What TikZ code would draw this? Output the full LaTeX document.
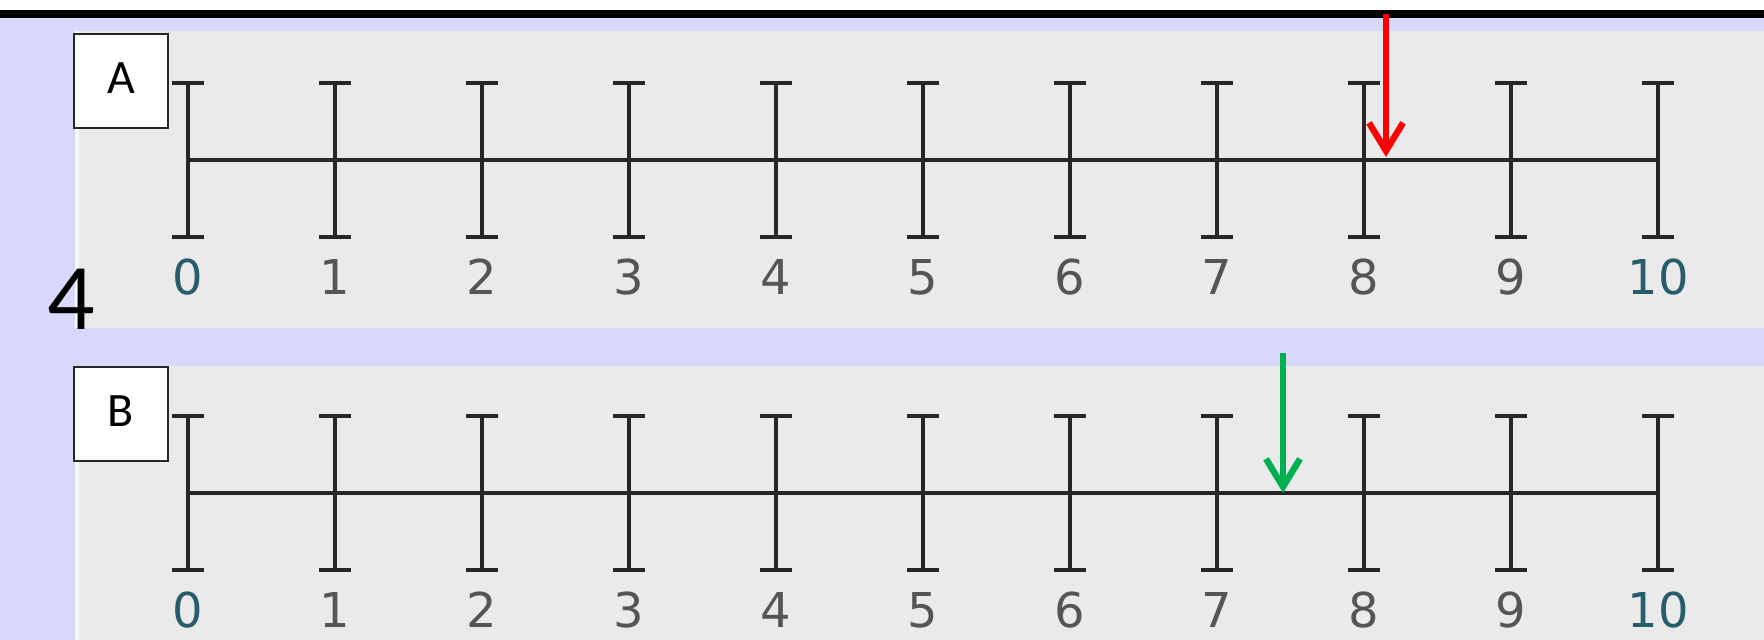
\documentclass[tikz,border=0pt]{standalone}
\usepackage{fontspec}
\setmainfont{DejaVu Sans}
\newfontfamily\slidefont{Carlito}
\usetikzlibrary{arrows.meta}
\definecolor{lavender}{RGB}{216,216,250}
\definecolor{panelgray}{RGB}{234,234,234}
\definecolor{tickgray}{RGB}{38,38,38}
\definecolor{numgray}{RGB}{85,85,85}
\definecolor{numteal}{RGB}{38,92,108}
\definecolor{markred}{RGB}{255,0,0}
\definecolor{markgreen}{RGB}{0,176,80}

\begin{document}
\begin{tikzpicture}[x=0.5pt,y=-0.5pt,
  letterbox/.style={draw=black!85,line width=1pt,fill=white,minimum width=47pt,minimum height=47pt,
    inner sep=0pt,text depth=3pt,font=\slidefont\fontsize{24}{28}\selectfont},
  tickbar/.style={draw=tickgray,line width=2.2pt},
  axis/.style={draw=tickgray,line width=1.8pt},
  num/.style={inner sep=0pt,font=\fontsize{24}{28}\selectfont},
  pointer/.style={line width=3.2pt,-{Straight Barb[length=14pt,width=17pt]}}
]
  \useasboundingbox (0,0) rectangle (1764,640);
  \fill[white] (0,0) rectangle (1764,640);
  \fill[lavender] (0,18) rectangle (1764,640);
  \fill[black] (0,10) rectangle (1764,18);
  \fill[panelgray] (75,31) rectangle (1764,328);
  \fill[panelgray] (75,366) rectangle (1764,640);
  \fill[white!60!panelgray] (75,31) rectangle (79,328) (75,366) rectangle (79,640);

  \foreach \r/\y in {a/160,b/493} {
    \foreach \k in {0,...,10} {
      \coordinate (\r\k) at (188+147*\k,\y);
      \draw[tickbar] (172+147*\k,\y-77) -- ++(32,0) (188+147*\k,\y-77) -- ++(0,154)
        (172+147*\k,\y+77) -- ++(32,0);
    }
    \draw[axis] (\r0) -- (\r10);
  }
  \foreach \r/\y in {a/277,b/610} {
    \foreach \k in {1,...,9}
      \node[num,text=numgray] (lab\r\k) at (188+147*\k,\y) {\k};
    \node[num,text=numteal] (lab\r0) at (188,\y) {0};
    \node[num,text=numteal] (lab\r10) at (1658,\y) {10};
  }

  \node[letterbox] (boxA) at (121,81) {A};
  \node[letterbox] (boxB) at (121,414) {B};
  \node[inner sep=0pt,font=\slidefont\fontsize{47}{52}\selectfont] (qnum) at (71,299) {4};

  \coordinate (redtail) at (1386,14);
  \coordinate (redhead) at (1386,157);
  \coordinate (greentail) at (1283,353);
  \coordinate (greenhead) at (1283,493);
  \draw[pointer,markred] (redtail) -- (redhead);
  \draw[pointer,markgreen] (greentail) -- (greenhead);
\end{tikzpicture}
\end{document}
